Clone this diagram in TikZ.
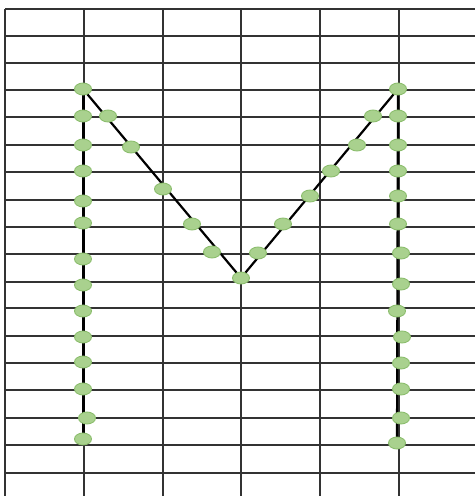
\documentclass[tikz,border=0pt]{standalone}
\usetikzlibrary{shapes.geometric,backgrounds}
\definecolor{dotfill}{HTML}{A9D18E}
\definecolor{dotedge}{HTML}{8CBE6E}
\definecolor{gridc}{HTML}{333333}
\begin{document}
\begin{tikzpicture}[x=1pt,y=-1pt,
  dot/.style={ellipse,draw=dotedge,fill=dotfill,line width=0.9pt,minimum width=17pt,minimum height=12pt,inner sep=0pt},
  gridline/.style={draw=gridc,line width=1.2pt},
  stroke/.style={draw=black,line width=2.2pt},
  thick stroke/.style={draw=black,line width=3pt}]
\useasboundingbox (0,0) rectangle (475,496);
% left column
\foreach \i/\x/\y in {1/83/89,2/83/116,3/83/145,4/83/171,5/83/201,6/83/223,7/83/259,8/83/285,9/83/311,10/83/337,11/83/362,12/83/389,13/87/418,14/83/439}
  \node[dot] (L\i) at (\x,\y) {};
% left diagonal
\foreach \i/\x/\y in {1/108/116,2/131/147,3/163/189,4/192/224,5/212/252}
  \node[dot] (D\i) at (\x,\y) {};
\node[dot] (V) at (241,278) {};
% right diagonal
\foreach \i/\x/\y in {1/258/253,2/283/224,3/310/196,4/331/171,5/357/145,6/373/116}
  \node[dot] (E\i) at (\x,\y) {};
% right column
\foreach \i/\x/\y in {1/398/89,2/398/116,3/398/145,4/398/171,5/398/196,6/398/224,7/401/253,8/401/284,9/397/311,10/402/337,11/401/363,12/401/389,13/401/418,14/397/443}
  \node[dot] (R\i) at (\x,\y) {};
\begin{pgfonlayer}{background}
  \foreach \y in {9,36,63,90,117,145,172,200,227,254,282,308,336,363,390,418,445,473}
    \draw[gridline] (5,\y) -- (475,\y);
  \foreach \x in {5,84,163,241,320,399}
    \draw[gridline] (\x,9) -- (\x,496);
  \draw[thick stroke] (L1.center) -- (L14.center);
  \draw[stroke] (R1.center) -- (R14.center);
  \draw[stroke,line join=round] (L1.center) -- (V.center) -- (R1.center);
\end{pgfonlayer}
\end{tikzpicture}
\end{document}
